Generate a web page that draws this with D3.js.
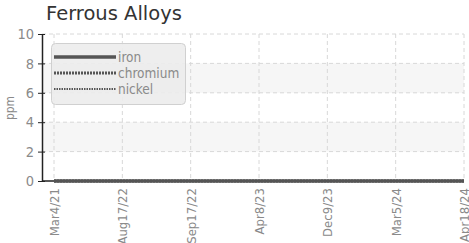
<!DOCTYPE html>
<html>
<head>
<meta charset="utf-8">
<script src="https://cdn.jsdelivr.net/npm/d3@7"></script>
<style>
  body { margin: 0; background: #fff; }
  .title { font-family: "DejaVu Sans", sans-serif; font-size: 19.5px; fill: #333; }
  .axis text, .legend text, .y-label {
    font-family: "Liberation Sans Narrow", "DejaVu Sans Condensed", sans-serif;
    fill: #8a8a8a;
  }
</style>
</head>
<body>
<svg id="chart" width="469" height="243"></svg>
<script>
const CATEGORIES = ['Mar4/21', 'Aug17/22', 'Sep17/22', 'Apr8/23', 'Dec9/23', 'Mar5/24', 'Apr18/24'];
const IRON = [0, 0, 0, 0, 0, 0, 0];
const CHROMIUM = [0, 0, 0, 0, 0, 0, 0];
const NICKEL = [0, 0, 0, 0, 0, 0, 0];
const Y_TICKS = [0, 2, 4, 6, 8, 10];

const series = [
  { name: 'iron', values: IRON, width: 3.5, dash: null },
  { name: 'chromium', values: CHROMIUM, width: 3, dash: '2,1' },
  { name: 'nickel', values: NICKEL, width: 2, dash: '1.5,1' }
];

const svg = d3.select('#chart');

const xScale = d3.scalePoint().domain(CATEGORIES).range([54, 464]);
const yScale = d3.scaleLinear().domain([0, 10]).range([181, 34]);

svg.append('text').attr('class', 'title')
  .attr('x', 46).attr('y', 20)
  .text('Ferrous Alloys');

// alternating bands
const bands = svg.append('g');
[[2, 4], [6, 8]].forEach((b) => {
  bands.append('rect')
    .attr('x', 42).attr('width', 464 - 42)
    .attr('y', yScale(b[1]))
    .attr('height', yScale(b[0]) - yScale(b[1]))
    .attr('fill', '#f6f6f6');
});

// grid
const grid = svg.append('g').attr('stroke', '#d8d8d8').attr('stroke-dasharray', '4,3');
grid.selectAll('.hg').data(Y_TICKS.filter((d) => d > 0)).enter()
  .append('line')
    .attr('x1', 42).attr('x2', 464)
    .attr('y1', (d) => yScale(d)).attr('y2', (d) => yScale(d));
grid.selectAll('.vg').data(CATEGORIES).enter()
  .append('line')
    .attr('x1', (d) => xScale(d)).attr('x2', (d) => xScale(d))
    .attr('y1', yScale(10)).attr('y2', yScale(0));

// y axis
const yAxis = d3.axisLeft(yScale).tickValues(Y_TICKS).tickSize(4).tickPadding(4).tickSizeOuter(0);
const yAxisEl = svg.append('g').attr('class', 'axis')
  .attr('transform', 'translate(42,0)')
  .call(yAxis);
yAxisEl.select('.domain').attr('stroke', '#222').attr('stroke-width', 1.5);
yAxisEl.selectAll('.tick line').attr('stroke', '#222').attr('x1', 3);
yAxisEl.selectAll('.tick text').style('font-size', '14.5px');

svg.append('text').attr('class', 'y-label')
  .attr('transform', 'translate(14,108) rotate(-90)')
  .attr('text-anchor', 'middle')
  .style('font-size', '12px')
  .text('ppm');

// x axis
const xAxis = d3.axisBottom(xScale).tickSize(0).tickPadding(6);
const xAxisEl = svg.append('g').attr('class', 'axis')
  .attr('transform', `translate(0,${yScale(0)})`)
  .call(xAxis);
xAxisEl.select('.domain').attr('d', `M42,0H464`).attr('stroke', '#222').attr('stroke-width', 1.5);
xAxisEl.selectAll('.tick text')
  .style('font-size', '13px')
  .attr('text-anchor', 'end')
  .attr('transform', 'rotate(-90)')
  .attr('x', -7).attr('y', 0).attr('dy', '0.35em');

// lines
const line = d3.line()
  .x((d, i) => xScale(CATEGORIES[i]))
  .y((d) => yScale(d));

svg.append('g').selectAll('path').data(series).enter()
  .append('path')
    .attr('d', (s) => line(s.values))
    .attr('fill', 'none')
    .attr('stroke', '#555')
    .attr('stroke-width', (s) => s.width)
    .attr('stroke-dasharray', (s) => s.dash);

// legend
const legend = svg.append('g').attr('class', 'legend');
legend.append('rect')
  .attr('x', 51.5).attr('y', 43.5).attr('width', 134).attr('height', 61).attr('rx', 4)
  .attr('fill', '#ececec').attr('fill-opacity', 0.9).attr('stroke', '#d0d0d0');
const items = legend.selectAll('.item').data(series).enter()
  .append('g').attr('transform', (d, i) => `translate(0,${57 + i * 16})`);
items.append('line')
  .attr('x1', 54).attr('x2', 116)
  .attr('stroke', '#555')
  .attr('stroke-width', (s) => s.width)
  .attr('stroke-dasharray', (s) => s.dash);
items.append('text')
  .attr('x', 118).attr('dy', '0.35em')
  .style('font-size', '13.5px')
  .text((s) => s.name);
</script>
</body>
</html>
